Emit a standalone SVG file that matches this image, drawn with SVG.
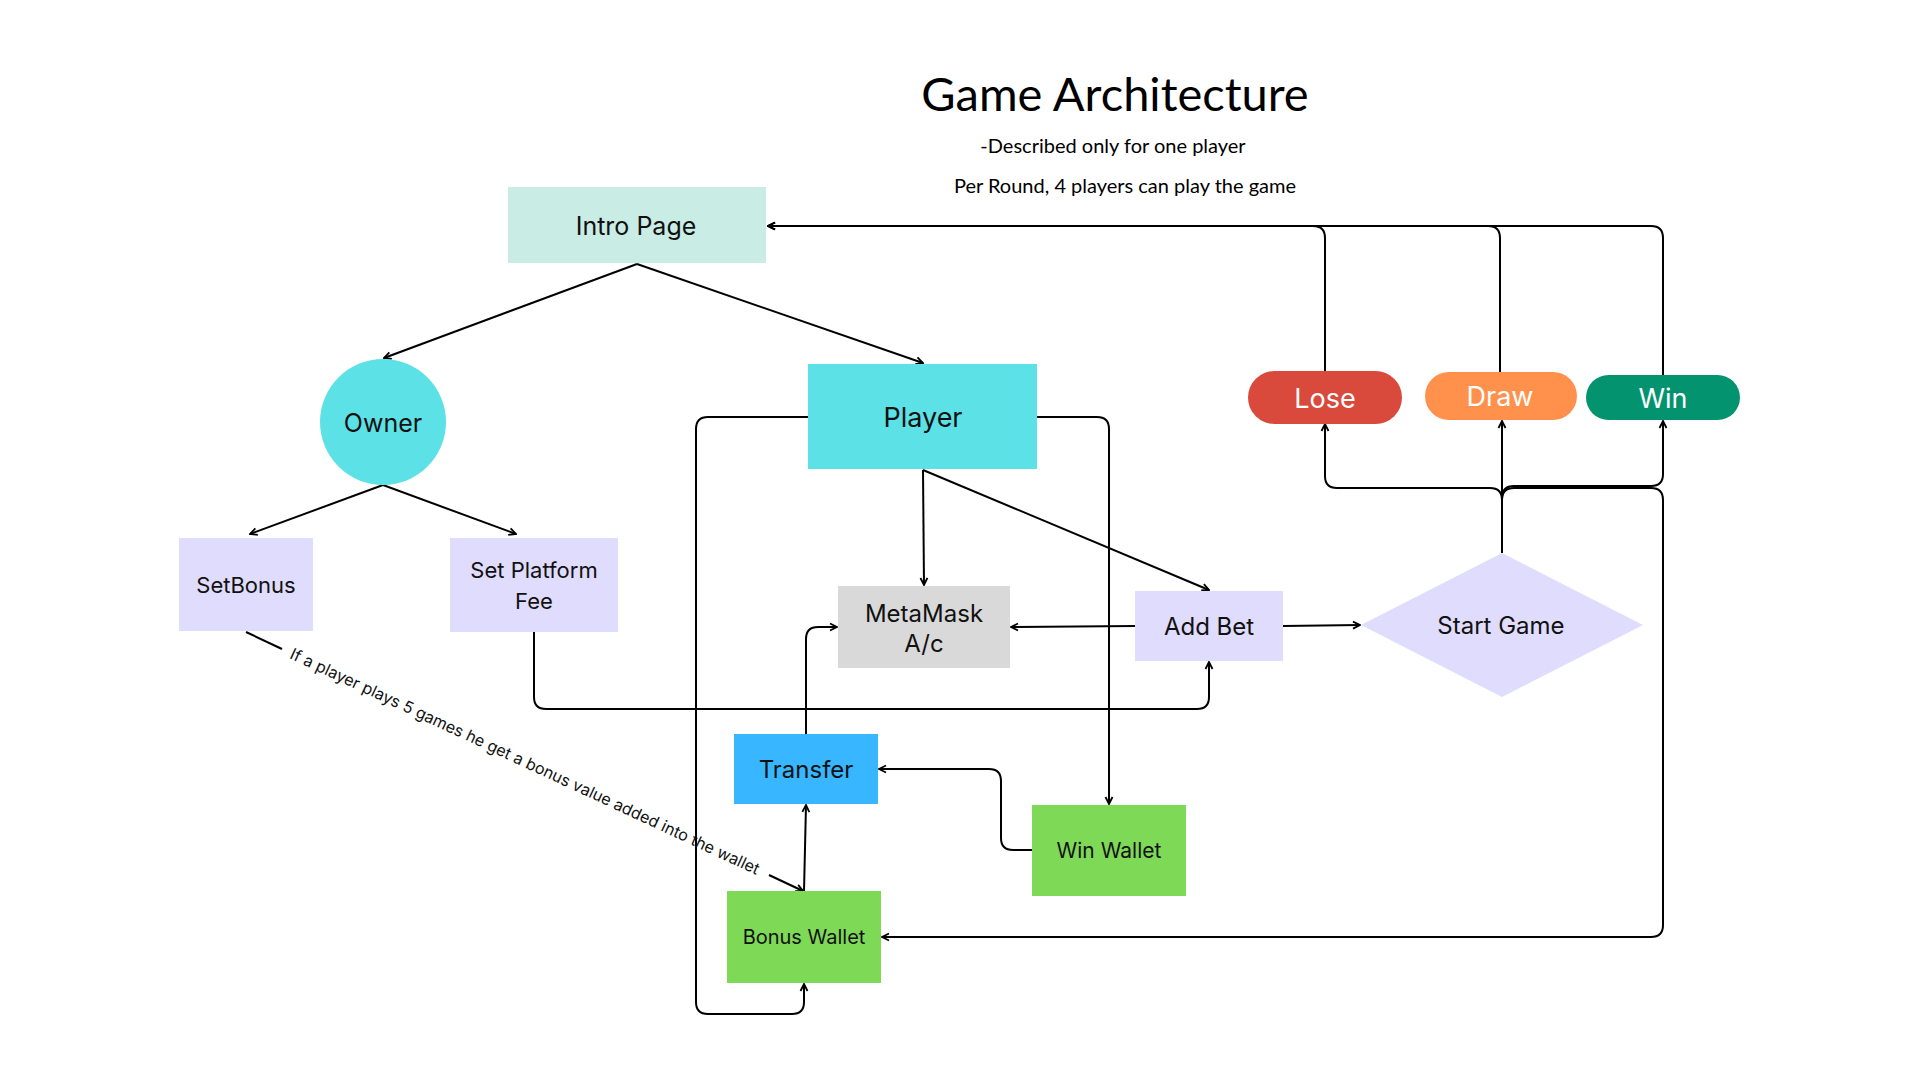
<svg xmlns="http://www.w3.org/2000/svg" width="1920" height="1080" viewBox="0 0 1920 1080">
<defs>
<marker id="arr" markerUnits="userSpaceOnUse" markerWidth="10" markerHeight="10" viewBox="0 0 10 10" refX="9" refY="5" orient="auto">
<path d="M2,1.5 L9,5 L2,8.5" fill="none" stroke="#000" stroke-width="1.8"/>
</marker>
</defs>
<style>
.lbl{font-family:Inter,"Liberation Sans",sans-serif;fill:#111;text-anchor:middle;dominant-baseline:central}
.wl{fill:#fff}
.hd{font-family:Lato,"Open Sans",sans-serif;fill:#000;text-anchor:middle}
.c{fill:none;stroke:#000;stroke-width:2}
.a{marker-end:url(#arr)}
</style>
<rect width="1920" height="1080" fill="#fff"/>
<g id="title">
<text class="hd" x="1115" y="111" font-size="47">Game Architecture</text>
<text class="hd" x="1113" y="153" font-size="20">-Described only for one player</text>
<text class="hd" x="1125" y="193" font-size="20">Per Round, 4 players can play the game</text>
</g>
<g id="connectors">
<path class="c a" d="M1325,371 V238 Q1325,226 1313,226 H768"/>
<path class="c a" d="M1500,372 V238 Q1500,226 1488,226 H768"/>
<path class="c a" d="M1663,375 V238 Q1663,226 1651,226 H768"/>
<path class="c a" d="M637,264 L384,358"/>
<path class="c a" d="M637,264 L923,363"/>
<path class="c a" d="M383,485 L250,534"/>
<path class="c a" d="M383,485 L516,534"/>
<path class="c a" d="M923,470 L924,585"/>
<path class="c a" d="M923,470 L1209,590"/>
<path class="c a" d="M1135,626 L1011,627"/>
<path class="c a" d="M1283,626 L1360,625"/>
<path class="c a" d="M534,632 V697 Q534,709 546,709 H1197 Q1209,709 1209,697 V662"/>
<path class="c a" d="M1037,417 H1097 Q1109,417 1109,429 V804"/>
<path class="c a" d="M808,417 H708 Q696,417 696,429 V1002 Q696,1014 708,1014 H792 Q804,1014 804,1002 V984"/>
<path class="c a" d="M806,734 V639 Q806,627 818,627 H837"/>
<path class="c a" d="M1032,850 H1013 Q1001,850 1001,838 V781 Q1001,769 989,769 H879"/>
<path class="c a" d="M804,891 L806,805"/>
<path class="c" d="M246,632 L282,649"/>
<path class="c a" d="M769,875 L803,891"/>
<text class="lbl" x="0" y="0" font-size="16.1" transform="translate(525,761) rotate(24.9)">If a player plays 5 games he get a bonus value added into the wallet</text>
<path class="c a" d="M1502,553 V500 Q1502,488 1490,488 H1337 Q1325,488 1325,476 V424"/>
<path class="c a" d="M1502,553 V421"/>
<path class="c a" d="M1502,553 V498 Q1502,486 1514,486 H1651 Q1663,486 1663,474 V421"/>
<path class="c a" d="M1502,553 V500 Q1502,488 1514,488 H1651 Q1663,488 1663,500 V925 Q1663,937 1651,937 H882"/>
</g>
<g id="intro"><rect x="508" y="187" width="258" height="76" fill="#c9ede5"/><text class="lbl" x="636" y="226" font-size="25">Intro Page</text></g>
<g id="owner"><circle cx="383" cy="422" r="63" fill="#5ce1e6"/><text class="lbl" x="383" y="423" font-size="25">Owner</text></g>
<g id="player"><rect x="808" y="364" width="229" height="105" fill="#5ce1e6"/><text class="lbl" x="923" y="417" font-size="27">Player</text></g>
<g id="setbonus"><rect x="179" y="538" width="134" height="93" fill="#e0dcfd"/><text class="lbl" x="246" y="585" font-size="22">SetBonus</text></g>
<g id="setfee"><rect x="450" y="538" width="168" height="94" fill="#e0dcfd"/><text class="lbl" x="534" y="570" font-size="22">Set Platform</text><text class="lbl" x="534" y="601" font-size="22">Fee</text></g>
<g id="metamask"><rect x="838" y="586" width="172" height="82" fill="#d9d9d9"/><text class="lbl" x="924" y="613" font-size="24">MetaMask</text><text class="lbl" x="924" y="643" font-size="24">A/c</text></g>
<g id="addbet"><rect x="1135" y="591" width="148" height="70" fill="#e0dcfd"/><text class="lbl" x="1209" y="626" font-size="24">Add Bet</text></g>
<g id="startgame"><polygon points="1502,553 1643,625 1502,697 1361,625" fill="#e0dcfd"/><text class="lbl" x="1501" y="625" font-size="24">Start Game</text></g>
<g id="lose"><rect x="1248" y="371" width="154" height="53" rx="26.5" fill="#d94a3c"/><text class="lbl wl" x="1325" y="398" font-size="27">Lose</text></g>
<g id="draw"><rect x="1425" y="372" width="152" height="48" rx="24" fill="#ff914d"/><text class="lbl wl" x="1500" y="396" font-size="27">Draw</text></g>
<g id="win"><rect x="1586" y="375" width="154" height="45" rx="22.5" fill="#03936f"/><text class="lbl wl" x="1663" y="398" font-size="27">Win</text></g>
<g id="transfer"><rect x="734" y="734" width="144" height="70" fill="#38b6ff"/><text class="lbl" x="806" y="769" font-size="24">Transfer</text></g>
<g id="winwallet"><rect x="1032" y="805" width="154" height="91" fill="#7ed957"/><text class="lbl" x="1109" y="850" font-size="21">Win Wallet</text></g>
<g id="bonuswallet"><rect x="727" y="891" width="154" height="92" fill="#7ed957"/><text class="lbl" x="804" y="937" font-size="20">Bonus Wallet</text></g>
</svg>
